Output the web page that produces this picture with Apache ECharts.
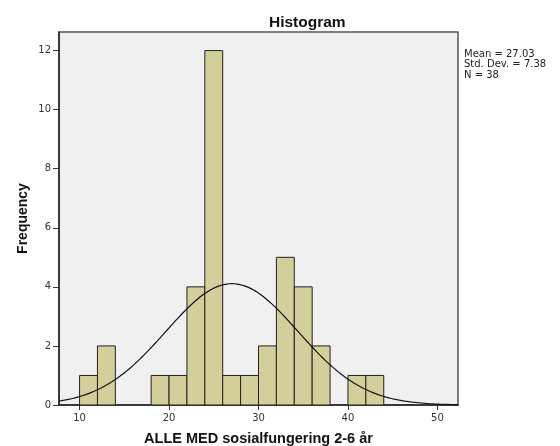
<!DOCTYPE html>
<html>
<head>
<meta charset="utf-8">
<script src="https://cdn.jsdelivr.net/npm/echarts@6/dist/echarts.min.js"></script>
<style>html,body{margin:0;padding:0;background:#fff;}#c{width:560px;height:446px;}</style>
</head>
<body>
<div id="c"></div>
<script>
var binStarts = [10,12,18,20,22,24,26,28,30,32,34,36,40,42];
var counts = [1,2,1,1,4,12,1,1,2,5,4,2,1,1];
var binWidth = 2;
var xTicks = [10,20,30,40,50];
var yTicks = [0,2,4,6,8,10,12];
var statsMean = 27.03, statsSd = 7.38, statsN = 38;
var statLines = ['Mean = 27.03','Std. Dev. = 7.38','N = 38'];

var xMin = 7.7, xMax = 52.3;
var barData = binStarts.map(function(s,i){ return [s, s+binWidth, counts[i]]; });
var curve = [];
for (var k = 0; k <= 300; k++) {
  var x = xMin + (xMax - xMin) * k / 300;
  var z = (x - statsMean) / statsSd;
  curve.push([x, statsN * binWidth * Math.exp(-0.5*z*z) / (statsSd*Math.sqrt(2*Math.PI))]);
}

var chart = echarts.init(document.getElementById('c'), null, {renderer:'canvas'});
chart.setOption({
  animation: false,
  backgroundColor: '#ffffff',
  title: {
    text: 'Histogram', left: 264, top: 10,
    textStyle: {fontFamily: 'Liberation Sans', fontWeight: 'bold', fontSize: 15.5, color: '#111'}
  },
  graphic: [{
    type: 'text', left: 464, top: 49,
    style: {text: statLines.join('\n'), fontFamily: 'DejaVu Sans', fontSize: 10, lineHeight: 10.5, fill: '#222'}
  }],
  grid: {left: 59, right: 102, top: 32, bottom: 41, outerBoundsMode: 'none', containLabel: false, show: true, backgroundColor: '#f0f0f0', borderColor: '#555', borderWidth: 1.5},
  xAxis: {
    type: 'value', min: xMin, max: xMax,
    name: 'ALLE MED sosialfungering 2-6 år', nameLocation: 'middle', nameGap: 26, nameMoveOverlap: false,
    nameTextStyle: {fontFamily: 'Liberation Sans', fontWeight: 'bold', fontSize: 14.5, color: '#111'},
    axisLine: {show: true, onZero: false, lineStyle: {color: '#222', width: 1.5}},
    axisTick: {show: true, length: 5, customValues: xTicks, lineStyle: {color: '#333'}},
    axisLabel: {customValues: xTicks, fontFamily: 'DejaVu Sans', fontSize: 10, color: '#333', margin: 8},
    splitLine: {show: false}
  },
  yAxis: {
    type: 'value', min: 0, max: 12.63,
    name: 'Frequency', nameLocation: 'middle', nameGap: 29, nameRotate: 90, nameMoveOverlap: false,
    nameTextStyle: {fontFamily: 'Liberation Sans', fontWeight: 'bold', fontSize: 14, color: '#111'},
    axisLine: {show: true, lineStyle: {color: '#222', width: 1.5}},
    axisTick: {show: true, length: 6, customValues: yTicks, lineStyle: {color: '#333'}},
    axisLabel: {customValues: yTicks, fontFamily: 'DejaVu Sans', fontSize: 10, color: '#333', margin: 8},
    splitLine: {show: false}
  },
  series: [{
    type: 'custom',
    data: barData,
    encode: {x: [0,1], y: 2},
    renderItem: function(params, api){
      var p0 = api.coord([api.value(0), 0]);
      var p1 = api.coord([api.value(1), api.value(2)]);
      return {type: 'rect', shape: {x: p0[0], y: p1[1], width: p1[0]-p0[0], height: p0[1]-p1[1]},
        style: {fill: '#d3cf9a', stroke: '#222', lineWidth: 1}};
    },
    z: 2
  }, {
    type: 'line', data: curve, showSymbol: false, smooth: false,
    lineStyle: {color: '#111', width: 1.2}, z: 3
  }]
});
</script>
</body>
</html>
